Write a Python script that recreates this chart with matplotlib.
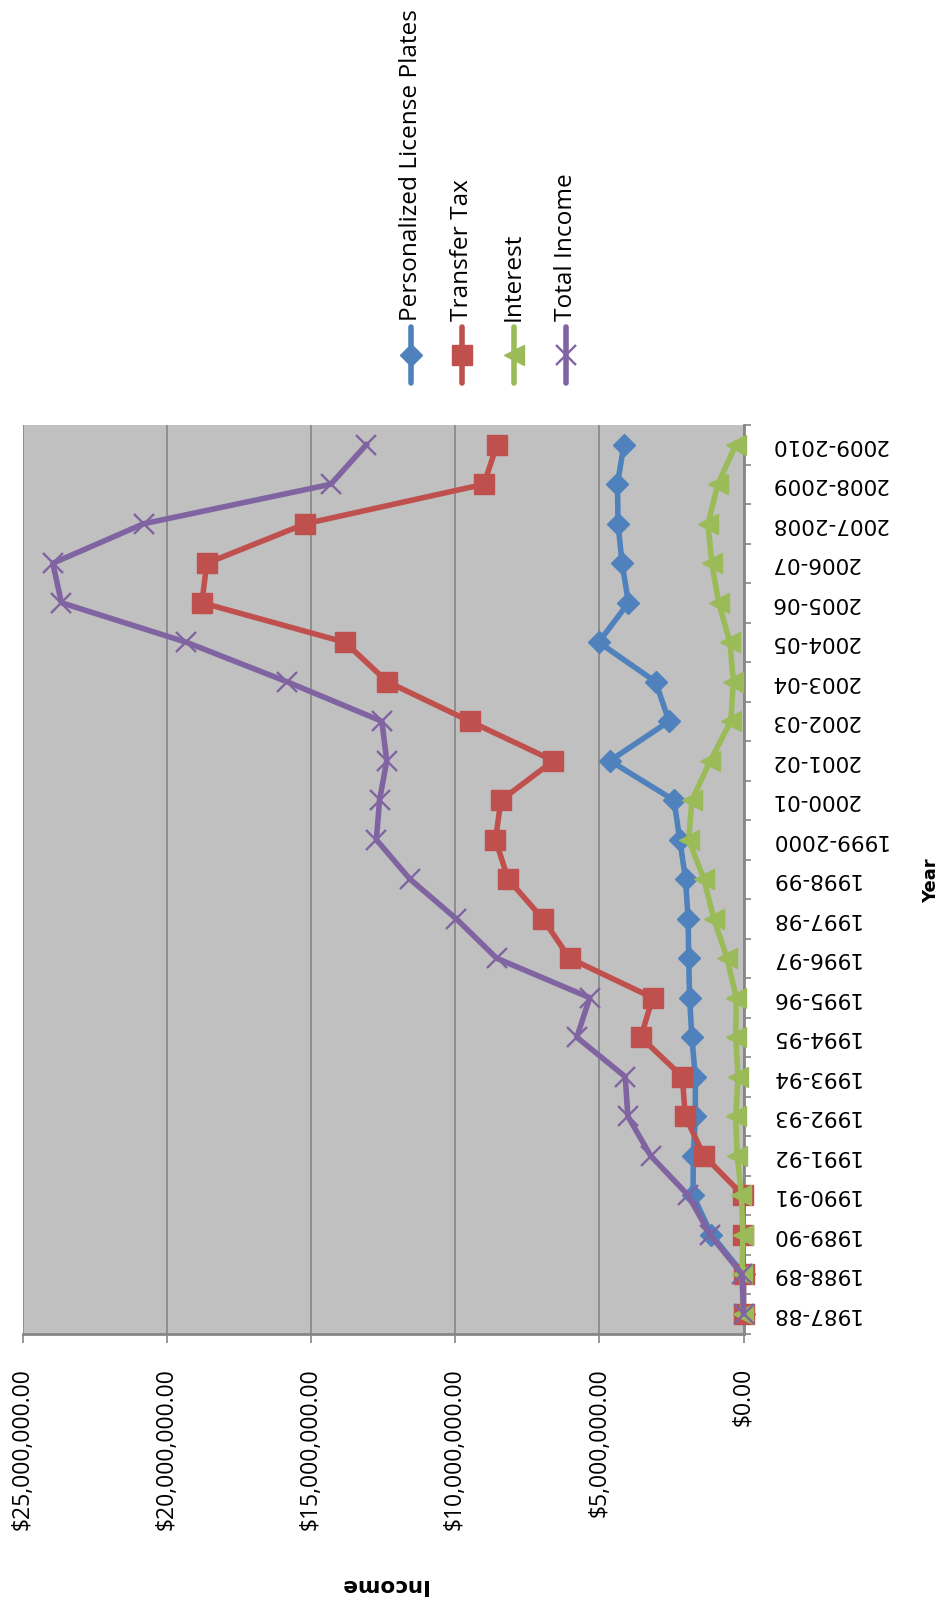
import numpy as np
import matplotlib.pyplot as plt
from matplotlib.lines import Line2D
from matplotlib.ticker import FuncFormatter, FixedLocator

years = ["1987-88", "1988-89", "1989-90", "1990-91", "1991-92", "1992-93",
         "1993-94", "1994-95", "1995-96", "1996-97", "1997-98", "1998-99",
         "1999-2000", "2000-01", "2001-02", "2002-03", "2003-04", "2004-05",
         "2005-06", "2006-07", "2007-2008", "2008-2009", "2009-2010"]

# values in millions of dollars
plates_m = [0.0, 0.0, 1.11, 1.75, 1.74, 1.67, 1.67, 1.79, 1.87, 1.90, 1.92, 2.01,
            2.21, 2.41, 4.63, 2.58, 3.05, 5.02, 3.99, 4.21, 4.35, 4.37, 4.15]
transfer_m = [0.0, 0.0, 0.02, 0.02, 1.37, 2.02, 2.12, 3.56, 3.15, 6.03, 6.96, 8.16,
              8.60, 8.41, 6.59, 9.49, 12.35, 13.82, 18.78, 18.61, 15.19, 9.00, 8.55]
interest_m = [0.02, 0.05, 0.02, 0.07, 0.22, 0.27, 0.19, 0.27, 0.25, 0.57, 1.03, 1.37,
              1.90, 1.79, 1.15, 0.44, 0.35, 0.47, 0.86, 1.10, 1.23, 0.89, 0.27]
total_m = [0.0, 0.05, 1.16, 1.92, 3.22, 4.01, 4.10, 5.78, 5.33, 8.56, 9.96, 11.56,
           12.73, 12.62, 12.37, 12.54, 15.83, 19.32, 23.65, 23.95, 20.80, 14.31, 13.08]

names = ["Personalized License Plates", "Transfer Tax", "Interest", "Total Income"]
colors = ["#4F81BD", "#C0504D", "#9BBB59", "#8064A2"]
markers = ["D", "s", "<", "x"]
msizes = [11, 14, 14, 15]

W, H = 947, 1604
fig = plt.figure(figsize=(W / 100, H / 100), dpi=100)
# chart is drawn turned a quarter turn: years run up the page, income runs right-to-left
ax = fig.add_axes([22.5 / W, 1 - 1333.5 / H, 721 / W, 908.5 / H])
ax.set_facecolor("#C0C0C0")

pos = np.arange(len(years))
all_vals = [plates_m, transfer_m, interest_m, total_m]
for i, vals in enumerate(all_vals):
    v = np.array(vals) * 1e6
    ax.plot(v, pos, color=colors[i], lw=4, marker=markers[i], ms=msizes[i],
            mfc=colors[i], mec=colors[i], mew=1.7 if markers[i] == "x" else 1,
            zorder=3 + i, clip_on=False)

ax.set_xlim(25e6, 0)
ax.set_ylim(-0.5, len(years) - 0.5)

grid_c = "#868686"
ax.xaxis.set_major_locator(FixedLocator([0, 5e6, 10e6, 15e6, 20e6, 25e6]))
ax.xaxis.set_major_formatter(FuncFormatter(lambda v, p: f"${v:,.2f}"))
ax.grid(axis="x", color=grid_c, lw=1.2, zorder=1)
ax.set_axisbelow(True)
ax.tick_params(axis="x", direction="out", length=6.5, width=1.2, color=grid_c,
               pad=18.5, labelrotation=90, labelsize=16.5)
for lab in ax.get_xticklabels():
    lab.set_family("Open Sans")
    lab.set_va("top")
    lab.set_ha("center")

ax.yaxis.tick_right()
ax.set_yticks(pos)
ax.set_yticklabels(years)
ax.set_yticks(np.arange(-0.5, len(years)), minor=True)
ax.tick_params(axis="y", which="major", length=0, pad=19, labelsize=15.5,
               labelrotation=180)
ax.tick_params(axis="y", which="minor", direction="out", length=5, width=1.2,
               color=grid_c)
for lab in ax.get_yticklabels():
    lab.set_family("DejaVu Sans")
    lab.set_ha("left")
    lab.set_va("center")

for s in ["top", "left"]:
    ax.spines[s].set_visible(False)
for s in ["bottom", "right"]:
    ax.spines[s].set_color(grid_c)
    ax.spines[s].set_linewidth(2)

fig.text(383 / W, 1 - 1585 / H, "Income", rotation=180, fontsize=15.5,
         fontweight="bold", ha="center", va="center")
fig.text(931 / W, 1 - 881 / H, "Year", rotation=90, fontsize=13,
         fontweight="bold", ha="center", va="center")

# legend, turned like the chart
leg_x = [411, 462.3, 514, 565.7]
for i in range(4):
    x = leg_x[i] / W
    fig.add_artist(Line2D([x, x], [1 - 383 / H, 1 - 327 / H], transform=fig.transFigure,
                          color=colors[i], lw=4, solid_capstyle="round"))
    fig.add_artist(Line2D([x], [1 - 355 / H], transform=fig.transFigure,
                          color=colors[i], marker=markers[i], ms=msizes[i],
                          mfc=colors[i], mec=colors[i],
                          mew=1.7 if markers[i] == "x" else 1))
    fig.text(x, 1 - 321 / H, names[i], rotation=90, fontsize=17.6,
             family="Open Sans", ha="center", va="bottom")

fig.savefig("out.png", dpi=100)
